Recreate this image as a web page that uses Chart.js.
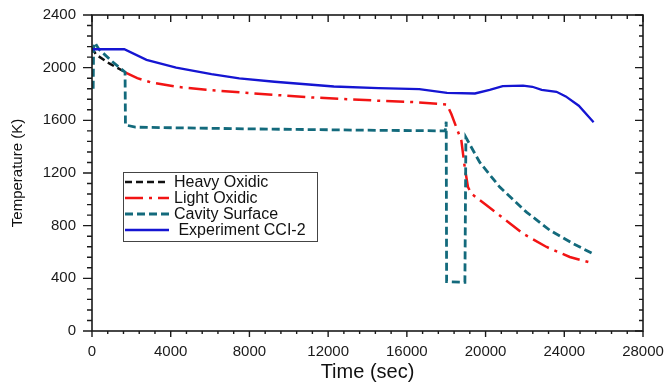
<!DOCTYPE html>
<html><head><meta charset="utf-8">
<script src="https://cdn.jsdelivr.net/npm/chart.js@4.4.1/dist/chart.umd.min.js"></script>
<style>html,body{margin:0;padding:0;background:#fff;}</style>
</head><body>
<canvas id="c" width="670" height="386"></canvas>
<script>
// ---- data ----
const seriesNames = ['Heavy Oxidic', 'Light Oxidic', 'Cavity Surface', ' Experiment CCI-2'];

const heavyTime = [0, 200, 900, 1700];
const heavyTemp = [2150, 2100, 2030, 1965];

const lightTime = [1680, 2300, 2958, 4276, 5800, 7580, 9400, 11160, 13000, 14555, 16400, 18040, 18260, 18770, 18940, 19107, 19280, 20000, 20720, 21900, 23100, 24280, 25390];
const lightTemp = [1965, 1920, 1890, 1855, 1832, 1812, 1792, 1774, 1760, 1749, 1738, 1720, 1648, 1446, 1244, 1093, 1043, 960, 878, 740, 638, 562, 517];

const cavityTime = [60, 80, 150, 350, 1000, 1680, 1700, 2200, 8000, 14000, 17950, 18000, 18020, 18950, 19000, 19700, 20720, 22080, 23265, 24450, 25440];
const cavityTemp = [1840, 2150, 2190, 2140, 2050, 1965, 1565, 1548, 1535, 1525, 1520, 1590, 375, 370, 1470, 1282, 1093, 903, 765, 664, 588];

const expTime = [0, 1640, 2770, 4276, 6070, 7484, 9276, 12290, 14555, 16630, 18040, 19460, 20210, 20870, 21906, 22380, 22850, 23606, 24075, 24737, 25490];
const expTemp = [2140, 2140, 2059, 2001, 1951, 1918, 1893, 1857, 1845, 1837, 1809, 1804, 1832, 1860, 1863, 1855, 1832, 1817, 1782, 1711, 1585];

const xTickValues = [0, 4000, 8000, 12000, 16000, 20000, 24000, 28000];
const yTickValues = [0, 400, 800, 1200, 1600, 2000, 2400];
const xTitle = 'Time (sec)';
const yTitle = 'Temperature (K)';

// ---- helpers ----
const pts = (t, v) => t.map((tt, i) => ({x: tt, y: v[i]}));
const FONT = "'Liberation Sans', Arial, sans-serif";

const frameTicks = {
  id: 'frameTicks',
  afterDatasetsDraw(chart) {
    const {ctx, chartArea: a, scales: {x, y}} = chart;
    const xs = xTickValues, ys = yTickValues;
    const xMajor = xs[1] - xs[0], yMajor = ys[1] - ys[0];
    const xMinor = xMajor / 5, yMinor = yMajor / 5;
    ctx.save();
    ctx.strokeStyle = '#1a1a1a';
    ctx.lineWidth = 1.6;
    ctx.strokeRect(a.left, a.top, a.right - a.left, a.bottom - a.top);
    ctx.lineWidth = 1.4;
    ctx.beginPath();
    const nx = Math.round((xs[xs.length - 1] - xs[0]) / xMinor);
    for (let i = 0; i <= nx; i++) {
      const v = xs[0] + i * xMinor;
      const px = x.getPixelForValue(v);
      const major = i % 5 === 0;
      ctx.moveTo(px, a.bottom); ctx.lineTo(px, a.bottom + (major ? 6 : 3));
      ctx.moveTo(px, a.top); ctx.lineTo(px, a.top + (major ? 7 : 4));
    }
    const ny = Math.round((ys[ys.length - 1] - ys[0]) / yMinor);
    for (let i = 0; i <= ny; i++) {
      const v = ys[0] + i * yMinor;
      const py = y.getPixelForValue(v);
      const major = i % 5 === 0;
      ctx.moveTo(a.left, py); ctx.lineTo(a.left - (major ? 9 : 5), py);
      ctx.moveTo(a.right, py); ctx.lineTo(a.right - (major ? 8 : 4), py);
    }
    ctx.stroke();
    ctx.restore();
  }
};

const boxLegend = {
  id: 'boxLegend',
  afterDraw(chart, args, o) {
    const {ctx, chartArea: a} = chart;
    const left = a.left + o.dx, top = a.top + o.dy;
    ctx.save();
    ctx.strokeStyle = '#444';
    ctx.lineWidth = 1;
    ctx.fillStyle = '#fff';
    ctx.fillRect(left, top, o.w, o.h);
    ctx.strokeRect(left + 0.5, top + 0.5, o.w, o.h);
    ctx.font = o.fontSize + 'px ' + FONT;
    ctx.textBaseline = 'middle';
    chart.data.datasets.forEach((ds, i) => {
      const cy = top + o.first + i * o.step;
      ctx.beginPath();
      ctx.setLineDash(ds.borderDash || []);
      ctx.strokeStyle = ds.borderColor;
      ctx.lineWidth = ds.borderWidth;
      ctx.moveTo(left + 2, cy);
      ctx.lineTo(left + o.sample, cy);
      ctx.stroke();
      ctx.setLineDash([]);
      ctx.fillStyle = '#111';
      ctx.fillText(ds.label, left + o.sample + 5, cy + 1);
    });
    ctx.restore();
  }
};

new Chart(document.getElementById('c'), {
  type: 'line',
  data: {
    datasets: [
      {label: seriesNames[0], data: pts(heavyTime, heavyTemp), borderColor: '#111111', borderWidth: 2.5, borderDash: [7, 4], order: 3},
      {label: seriesNames[1], data: pts(lightTime, lightTemp), borderColor: '#f21414', borderWidth: 2.5, borderDash: [18, 6, 3, 6], order: 2},
      {label: seriesNames[2], data: pts(cavityTime, cavityTemp), borderColor: '#136a7c', borderWidth: 2.8, borderDash: [8, 4], order: 1},
      {label: seriesNames[3], data: pts(expTime, expTemp), borderColor: '#1515d2', borderWidth: 2.3, order: 0}
    ]
  },
  options: {
    responsive: false,
    animation: false,
    devicePixelRatio: 1,
    elements: {point: {radius: 0, hoverRadius: 0}, line: {tension: 0, fill: false}},
    layout: {padding: {top: 15, right: 27, bottom: 0, left: 0}},
    plugins: {
      legend: {display: false},
      tooltip: {enabled: false},
      boxLegend: {dx: 31, dy: 157, w: 194, h: 69, first: 10, step: 16, sample: 46, fontSize: 16}
    },
    scales: {
      x: {
        type: 'linear', min: 0, max: 28000,
        grid: {display: false, drawTicks: false},
        border: {display: false},
        afterBuildTicks: s => { s.ticks = xTickValues.map(v => ({value: v})); },
        afterFit: s => { s.height = 55; s.paddingLeft = 0; s.paddingRight = 0; },
        ticks: {padding: 12, color: '#1a1a1a', font: {family: FONT, size: 15}, maxRotation: 0, autoSkip: false, callback: v => String(v)},
        title: {display: true, text: xTitle, color: '#111', font: {family: FONT, size: 20}, padding: {top: 0, bottom: 2}}
      },
      y: {
        type: 'linear', min: 0, max: 2400,
        grid: {display: false, drawTicks: false},
        border: {display: false},
        afterBuildTicks: s => { s.ticks = yTickValues.map(v => ({value: v})); },
        afterFit: s => { s.width = 92; s.paddingTop = 0; s.paddingBottom = 0; },
        ticks: {padding: 16, color: '#1a1a1a', font: {family: FONT, size: 15}, autoSkip: false, callback: v => String(v)},
        title: {display: true, text: yTitle, color: '#111', font: {family: FONT, size: 15}, padding: {top: 9, bottom: 0}}
      }
    }
  },
  plugins: [frameTicks, boxLegend]
});
</script>
</body></html>
